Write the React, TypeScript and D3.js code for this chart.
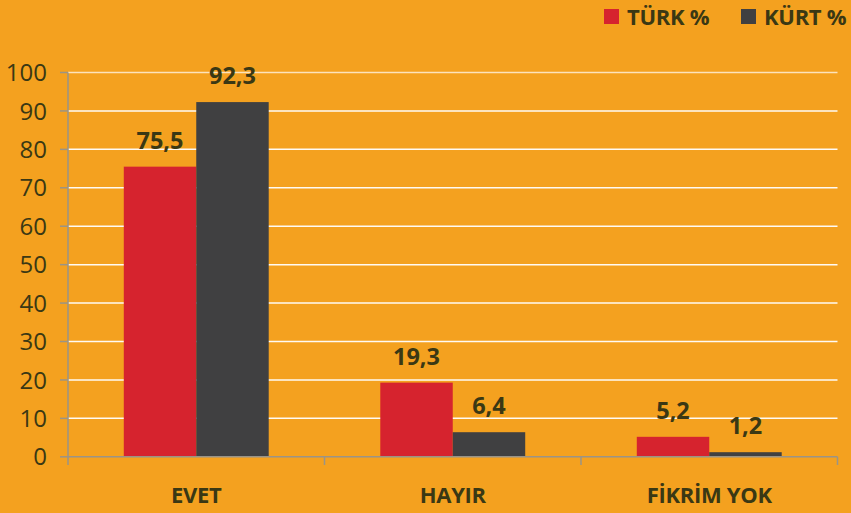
import React from "react";
import * as d3 from "d3";

const categories = ["EVET", "HAYIR", "FİKRİM YOK"];
const seriesNames = ["TÜRK %", "KÜRT %"];
const turkValues = [75.5, 19.3, 5.2];
const kurtValues = [92.3, 6.4, 1.2];
const yTicks = [0, 10, 20, 30, 40, 50, 60, 70, 80, 90, 100];

const W = 851;
const H = 513;
const BG = "#F4A11F";
const COLORS = ["#D6232E", "#404041"];
const TEXT = "#3a3814";
const AXIS = "#9a9487";
const FONT = "'Open Sans', 'Noto Sans', sans-serif";

export default function App() {
  const left = 68;
  const right = 837.5;
  const y = d3.scaleLinear().domain([0, 100]).range([456.8, 72.5]);
  const x = d3.scaleBand<string>().domain(categories).range([left, right]).padding(0);
  const inner = d3
    .scaleBand<string>()
    .domain(seriesNames)
    .range([0, x.bandwidth()])
    .paddingInner(0)
    .paddingOuter(0.77);
  const series = [turkValues, kurtValues];
  const fmt = (v: number) => v.toFixed(1).replace(".", ",");
  const y0 = y(0);

  return (
    <svg
      width={W}
      height={H}
      style={{ position: "absolute", left: 0, top: 0, display: "block" }}
    >
      <rect x={0} y={0} width={W} height={H} fill={BG} />
      {yTicks
        .filter((t) => t > 0)
        .map((t) => (
          <line
            key={"g" + t}
            x1={left}
            x2={right}
            y1={y(t)}
            y2={y(t)}
            stroke="#ffffff"
            strokeOpacity={t === 100 ? 0.7 : 0.95}
            strokeWidth={1.5}
          />
        ))}
      {categories.map((c, ci) =>
        seriesNames.map((s, si) => {
          const v = series[si][ci];
          const bx = (x(c) as number) + (inner(s) as number);
          return (
            <rect
              key={c + s}
              x={bx}
              y={y(v)}
              width={inner.bandwidth()}
              height={y0 - y(v)}
              fill={COLORS[si]}
            />
          );
        })
      )}
      {categories.map((c, ci) =>
        seriesNames.map((s, si) => {
          const v = series[si][ci];
          const bx = (x(c) as number) + (inner(s) as number) + inner.bandwidth() / 2;
          return (
            <text
              key={"l" + c + s}
              x={bx}
              y={y(v) - 18}
              textAnchor="middle"
              fontFamily={FONT}
              fontWeight={700}
              fontSize={23.5}
              fill={TEXT}
            >
              {fmt(v)}
            </text>
          );
        })
      )}
      <line x1={left} x2={left} y1={y(100)} y2={465} stroke={AXIS} strokeWidth={1.5} />
      {yTicks.map((t) => (
        <g key={"t" + t}>
          <line x1={60} x2={left} y1={y(t)} y2={y(t)} stroke={AXIS} strokeWidth={1.5} />
          <text
            x={47}
            y={y(t)}
            dy="0.36em"
            textAnchor="end"
            fontFamily={FONT}
            fontSize={24}
            fill={TEXT}
          >
            {t}
          </text>
        </g>
      ))}
      <line x1={left} x2={right} y1={y0} y2={y0} stroke={AXIS} strokeWidth={1.5} />
      {categories.map((c) => (
        <line
          key={"xt" + c}
          x1={(x(c) as number) + x.bandwidth()}
          x2={(x(c) as number) + x.bandwidth()}
          y1={y0}
          y2={465}
          stroke={AXIS}
          strokeWidth={1.5}
        />
      ))}
      {categories.map((c) => (
        <text
          key={"xl" + c}
          x={(x(c) as number) + x.bandwidth() / 2}
          y={503}
          textAnchor="middle"
          fontFamily={FONT}
          fontWeight={700}
          fontSize={22}
          fill={TEXT}
          letterSpacing={-0.3}
        >
          {c}
        </text>
      ))}
      {seriesNames.map((s, si) => {
        const lx = 604 + si * 137;
        return (
          <g key={"lg" + s}>
            <rect x={lx} y={9} width={15} height={15} fill={COLORS[si]} />
            <text
              x={lx + 23}
              y={25}
              fontFamily={FONT}
              fontWeight={700}
              fontSize={22}
              fill={TEXT}
              letterSpacing={-0.3}
            >
              {s}
            </text>
          </g>
        );
      })}
    </svg>
  );
}
